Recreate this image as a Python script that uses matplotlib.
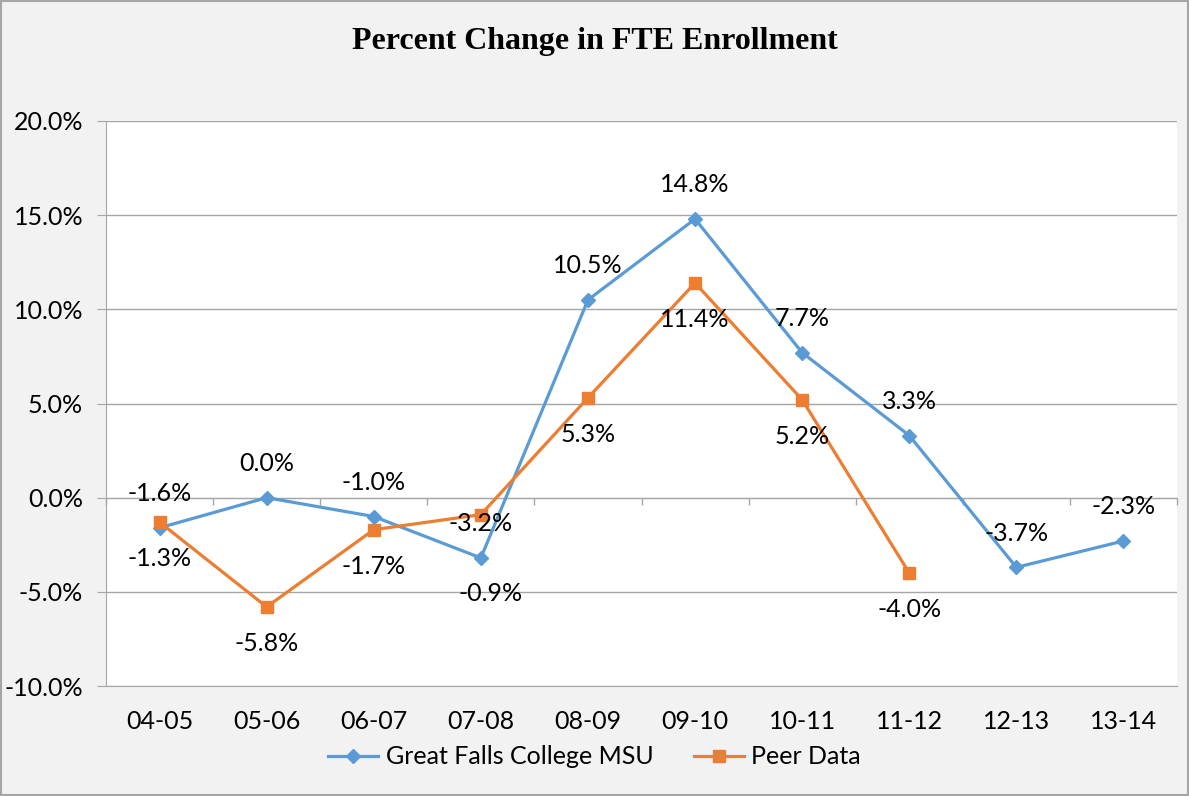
import matplotlib
matplotlib.use("Agg")
import matplotlib.pyplot as plt
import numpy as np
from matplotlib.patches import Rectangle

categories = ["04-05", "05-06", "06-07", "07-08", "08-09", "09-10", "10-11", "11-12", "12-13", "13-14"]
gfc = [-1.6, 0.0, -1.0, -3.2, 10.5, 14.8, 7.7, 3.3, -3.7, -2.3]
peer = [-1.3, -5.8, -1.7, -0.9, 5.3, 11.4, 5.2, -4.0]
yticks = [-10, -5, 0, 5, 10, 15, 20]

blue = "#5B9BD5"
orange = "#ED7D31"
axis_gray = "#A6A6A6"
fam = ["Lato", "DejaVu Sans"]
fs = 18

fig = plt.figure(figsize=(11.89, 7.96), dpi=100, facecolor="#F2F2F2")
ax = fig.add_axes([106/1189, 1-686/796, (1177-106)/1189, (686-121)/796])
ax.set_facecolor("white")

x = np.arange(len(categories))
ax.plot(x[:len(gfc)], gfc, color=blue, lw=2.3, marker="D", ms=7, label="Great Falls College MSU", zorder=3)
ax.plot(x[:len(peer)], peer, color=orange, lw=2.3, marker="s", ms=9, label="Peer Data", zorder=3)

for xi, v in zip(x, gfc):
    ax.annotate(f"{v:.1f}%", (xi, v), xytext=(0, 24.5), textcoords="offset points",
                ha="center", va="center", fontsize=fs, family=fam, color="black", zorder=4)
for xi, v in zip(x, peer):
    dy = -57 if xi == 3 else -26.5
    dx = 7 if xi == 3 else 0
    ax.annotate(f"{v:.1f}%", (xi, v), xytext=(dx, dy), textcoords="offset points",
                ha="center", va="center", fontsize=fs, family=fam, color="black", zorder=4)

ax.set_xlim(-0.5, len(categories) - 0.5)
ax.set_ylim(-10, 20)
ax.set_yticks(yticks)
ax.set_yticklabels([f"{t:.1f}%" for t in yticks], family=fam, fontsize=fs)
ax.set_xticks(x)
ax.set_xticklabels(categories, family=fam, fontsize=fs)
ax.yaxis.grid(True, color=axis_gray, lw=1)
ax.set_axisbelow(True)
for s in ["top", "right"]:
    ax.spines[s].set_visible(False)
ax.spines["left"].set_color(axis_gray)
ax.spines["bottom"].set_color(axis_gray)
ax.tick_params(axis="y", length=6.5, color=axis_gray, pad=10)
ax.tick_params(axis="x", length=0, pad=17)

# category axis crossing at 0%
zero_frac = (0 - (-10)) / (20 - (-10))
sec = ax.secondary_xaxis(zero_frac)
sec.set_xticks(np.arange(-0.5, len(categories), 1.0))
sec.set_xticklabels([])
sec.tick_params(axis="x", length=5, width=1, color=axis_gray, direction="out")
for s in sec.spines:
    sec.spines[s].set_color(axis_gray)

fig.text(0.5, 1-42/796, "Percent Change in FTE Enrollment", ha="center", va="center",
         fontsize=23, fontweight="bold", family=["Liberation Serif", "DejaVu Serif"])

fig.legend(loc="center", bbox_to_anchor=(0.5, 1-757/796), ncol=2, frameon=False,
           prop={"family": fam, "size": fs}, handlelength=2.0, columnspacing=1.6, handletextpad=0.3)

fig.patches.append(Rectangle((0.001, 0.001), 0.998, 0.998, transform=fig.transFigure,
                             fill=False, edgecolor=axis_gray, lw=1.5))

fig.savefig("out.png", dpi=100, facecolor=fig.get_facecolor())
